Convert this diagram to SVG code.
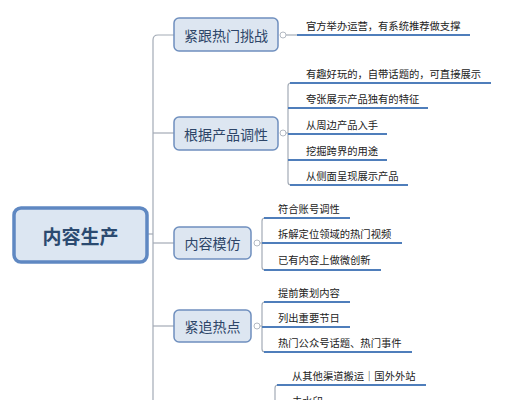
<svg xmlns="http://www.w3.org/2000/svg" width="505" height="400" viewBox="0 0 505 400">
<style>
.bg{fill:#ffffff}
.root rect{fill:#dce6f2;stroke:#5f88c2;stroke-width:3.5}
.root text{font-family:"Noto Sans CJK SC","Liberation Sans",sans-serif;font-size:19px;font-weight:bold;fill:#2b4a70;text-anchor:middle;dominant-baseline:central}
.br rect{fill:#dde6f1;stroke:#6f8fbe;stroke-width:1.5}
.br text{font-family:"Noto Sans CJK SC","Liberation Sans",sans-serif;font-size:14px;fill:#2d4568;text-anchor:middle;dominant-baseline:central}
.lf text{font-family:"Noto Sans CJK SC","Liberation Sans",sans-serif;font-size:10.3px;fill:#222}
.ul{stroke:#4f7ebb;stroke-width:2.2;fill:none}
.ln{stroke:#a3abb6;stroke-width:1.2;fill:none}
.cc{fill:#fff;stroke:#b3b9c2;stroke-width:1}
</style>
<rect class="bg" x="0" y="0" width="505" height="400"/>
<g id="connectors">
  <path class="ln" d="M174 35 H158 Q153 35 153 40 V400"/>
  <path class="ln" d="M148 234 H153"/>
  <path class="ln" d="M153 133 H174"/>
  <path class="ln" d="M153 243 H174"/>
  <path class="ln" d="M153 326 H174"/>
  <path class="ln" d="M286 35 H298"/>
  <path class="ln" d="M286 133 H288 M291 83 Q288 83 288 86 V182 Q288 185 291 185"/>
  <path class="ln" d="M260 243 H262 M265 218 Q262 218 262 221 V267 Q262 270 265 270"/>
  <path class="ln" d="M260 326 H262 M265 302 Q262 302 262 305 V349 Q262 352 265 352"/>
  <path class="ln" d="M278 385 Q275 385 275 388 V400"/>
  <circle class="cc" cx="283" cy="35" r="3"/>
  <circle class="cc" cx="283" cy="133" r="3"/>
  <circle class="cc" cx="257" cy="243" r="3"/>
  <circle class="cc" cx="257" cy="326" r="3"/>
</g>
<g id="root" class="root">
  <rect x="14" y="208" width="133" height="54" rx="7"/>
  <text x="80.5" y="235">内容生产</text>
</g>
<g id="b1" class="br"><rect x="174" y="18" width="104" height="33" rx="5"/><text x="226" y="35">紧跟热门挑战</text></g>
<g id="b2" class="br"><rect x="174" y="117" width="104" height="33" rx="5"/><text x="226" y="134">根据产品调性</text></g>
<g id="b3" class="br"><rect x="174" y="227" width="77" height="32" rx="5"/><text x="212.5" y="243">内容模仿</text></g>
<g id="b4" class="br"><rect x="174" y="310" width="77" height="32" rx="5"/><text x="212.5" y="326">紧追热点</text></g>
<g id="l1" class="lf"><path class="ul" d="M297 35 H470"/><text x="306" y="30">官方举办运营，有系统推荐做支撑</text></g>
<g id="l2a" class="lf"><path class="ul" d="M290 83 H491"/><text x="306" y="78">有趣好玩的，自带话题的，可直接展示</text></g>
<g id="l2b" class="lf"><path class="ul" d="M288 108 H428"/><text x="306" y="103">夸张展示产品独有的特征</text></g>
<g id="l2c" class="lf"><path class="ul" d="M288 134 H387"/><text x="306" y="129">从周边产品入手</text></g>
<g id="l2d" class="lf"><path class="ul" d="M288 160 H387"/><text x="306" y="155">挖掘跨界的用途</text></g>
<g id="l2e" class="lf"><path class="ul" d="M290 185 H408"/><text x="306" y="180">从侧面呈现展示产品</text></g>
<g id="l3a" class="lf"><path class="ul" d="M264 218 H350"/><text x="278" y="213">符合账号调性</text></g>
<g id="l3b" class="lf"><path class="ul" d="M262 243 H402"/><text x="278" y="238">拆解定位领域的热门视频</text></g>
<g id="l3c" class="lf"><path class="ul" d="M264 270 H381"/><text x="278" y="264">已有内容上做微创新</text></g>
<g id="l4a" class="lf"><path class="ul" d="M264 302 H350"/><text x="278" y="297">提前策划内容</text></g>
<g id="l4b" class="lf"><path class="ul" d="M262 327 H350"/><text x="278" y="322">列出重要节日</text></g>
<g id="l4c" class="lf"><path class="ul" d="M264 352 H412"/><text x="278" y="347">热门公众号话题、热门事件</text></g>
<g id="l5a" class="lf"><path class="ul" d="M277 385 H426"/><text x="292" y="380">从其他渠道搬运｜国外外站</text></g>
<g id="l5b" class="lf"><text x="292" y="405">去水印</text></g>
</svg>
